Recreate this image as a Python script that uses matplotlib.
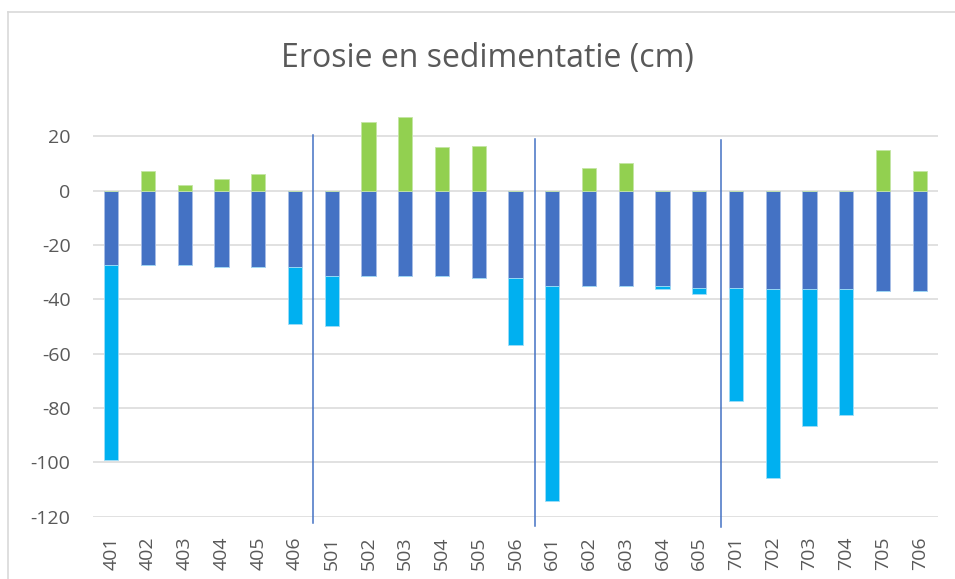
import matplotlib
matplotlib.use("Agg")
import matplotlib.pyplot as plt
from matplotlib.lines import Line2D
import numpy as np

plt.rcParams['font.family'] = ['Open Sans', 'DejaVu Sans']

categories = ['401', '402', '403', '404', '405', '406',
              '501', '502', '503', '504', '505', '506',
              '601', '602', '603', '604', '605',
              '701', '702', '703', '704', '705', '706']
# dark blue part (from 0 downward)
basis = [-27.4, -27.3, -27.3, -28.0, -28.0, -28.1,
         -31.5, -31.5, -31.5, -31.5, -32.3, -32.3,
         -35.1, -35.1, -35.1, -35.1, -35.7,
         -35.7, -36.3, -36.3, -36.3, -36.8, -36.8]
# light blue part (erosion, stacked below dark blue)
erosie = [-71.7, 0, 0, 0, 0, -21.1,
          -18.3, 0, 0, 0, 0, -24.5,
          -79.2, 0, 0, -1.2, -2.3,
          -41.7, -69.3, -50.4, -46.4, 0, 0]
# green part (sedimentation, positive)
sedimentatie = [0, 7.3, 2.1, 4.3, 6.1, 0,
                0, 25.3, 27.1, 16.1, 16.5, 0,
                0, 8.4, 10.2, 0, 0,
                0, 0, 0, 0, 15.0, 7.3]
separators = [5.5, 11.52, 16.6]
sep_top = [20.5, 19.0, 18.7]
sep_bottom = [-122.2, -123.4, -123.9]
yticks = [-120, -100, -80, -60, -40, -20, 0, 20]

W, H = 955, 579
fig = plt.figure(figsize=(W / 100, H / 100), dpi=100)
ax = fig.add_axes([92.8 / W, 1 - 516.7 / H, (938.1 - 92.8) / W, (516.7 - 109.2) / H])

x = np.arange(len(categories))
bw = 0.39
dark = '#4472C4'
light = '#00B0F0'
green = '#92D050'

ax.bar(x, basis, width=bw, color=dark, edgecolor='#A9BEE6', linewidth=0.6, zorder=3)
ax.bar(x, erosie, bottom=basis, width=bw, color=light, edgecolor='#9FDDF7', linewidth=0.6, zorder=3)
ax.bar(x, sedimentatie, width=bw, color=green, edgecolor='#C4E5A4', linewidth=0.6, zorder=3)

for sx, st, sb in zip(separators, sep_top, sep_bottom):
    ax.plot([sx, sx], [sb, st], color='#4472C4', lw=1.1, clip_on=False, zorder=4)

ax.set_xlim(-0.5, len(categories) - 0.5)
ax.set_ylim(-120, 30)
ax.set_yticks(yticks)
ax.set_yticklabels([str(v) for v in yticks])
ax.set_xticks(x)
ax.set_xticklabels(categories, rotation=90, va='top', ha='center')
ax.grid(axis='y', color='#D9D9D9', lw=1.1, zorder=0)
ax.set_axisbelow(True)
for s in ax.spines.values():
    s.set_visible(False)
ax.tick_params(axis='both', length=0, colors='#595959', labelsize=14)
ax.tick_params(axis='y', pad=16)
ax.tick_params(axis='x', pad=14)

fig.text(487 / W, 1 - 66.7 / H, 'Erosie en sedimentatie (cm)', ha='center', va='baseline',
         fontsize=23, color='#595959')

# chart area border (partly cropped)
fig.add_artist(Line2D([8 / W, 8 / W], [0, 1 - 12 / H], color='#D9D9D9', lw=1.2, transform=fig.transFigure))
fig.add_artist(Line2D([8 / W, 1], [1 - 12 / H, 1 - 12 / H], color='#D9D9D9', lw=1.2, transform=fig.transFigure))

fig.savefig('out.png', dpi=100, facecolor='white')
